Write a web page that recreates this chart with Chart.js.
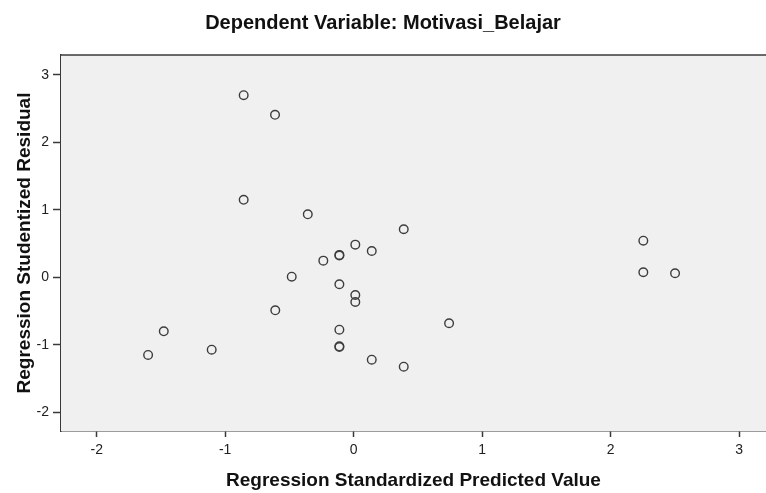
<!DOCTYPE html>
<html>
<head>
<meta charset="utf-8">
<script src="https://cdn.jsdelivr.net/npm/chart.js@4/dist/chart.umd.min.js"></script>
<style>
  html, body { margin: 0; padding: 0; background: #ffffff; overflow: hidden; }
  #wrap { width: 766px; height: 493px; }
  canvas { display: block; }
</style>
</head>
<body>
<div id="wrap"><canvas id="chart" width="766" height="493"></canvas></div>
<script>
const predicted = [
  -0.856, -0.612, -0.856, -0.357, 0.390, 0.013, 0.141, -0.111, -0.111,
  -0.236, -0.482, -0.111, 0.013, 0.013, -0.610, 0.743, -1.478, -0.111,
  -0.111, -0.111, -1.105, -1.600, 0.141, 0.390, 2.255, 2.255, 2.502
];
const residual = [
  2.70, 2.41, 1.15, 0.935, 0.713, 0.485, 0.391, 0.333, 0.323,
  0.248, 0.010, -0.102, -0.261, -0.365, -0.488, -0.680, -0.799, -0.775,
  -1.022, -1.032, -1.072, -1.150, -1.220, -1.324, 0.544, 0.076, 0.061
];
const xTicks = [-2, -1, 0, 1, 2, 3];
const yTicks = [-2, -1, 0, 1, 2, 3];

const titleText = "Dependent Variable: Motivasi_Belajar";
const xTitle = "Regression Standardized Predicted Value";
const yTitle = "Regression Studentized Residual";

const FONT = "'Liberation Sans', Arial, sans-serif";

const points = predicted.map((x, i) => ({ x: x, y: residual[i] }));

// grey plot background and top frame line
const plotBox = {
  id: "plotBox",
  beforeDatasetsDraw(chart) {
    const { ctx, chartArea: a } = chart;
    ctx.save();
    ctx.fillStyle = "#f0f0f0";
    ctx.fillRect(a.left, a.top, a.right - a.left, a.bottom - a.top);
    ctx.strokeStyle = "#3a3a3a";
    ctx.lineWidth = 1.5;
    ctx.beginPath();
    ctx.moveTo(a.left, a.top);
    ctx.lineTo(a.right, a.top);
    ctx.stroke();
    ctx.restore();
  }
};

new Chart(document.getElementById("chart"), {
  type: "scatter",
  data: {
    datasets: [
      {
        data: points,
        pointStyle: "circle",
        pointRadius: 4.3,
        pointHoverRadius: 4.3,
        borderColor: "#3c3c3c",
        backgroundColor: "rgba(0,0,0,0)",
        borderWidth: 1.4,
      },
    ],
  },
  plugins: [plotBox],
  options: {
    responsive: false,
    animation: false,
    layout: { padding: 0, autoPadding: false },
    plugins: {
      legend: { display: false },
      tooltip: { enabled: false },
      title: {
        display: true,
        text: titleText,
        color: "#111111",
        font: { family: FONT, size: 20, weight: "bold" },
        padding: { top: 11, bottom: 20 },
      },
    },
    scales: {
      x: {
        type: "linear",
        min: -2.278,
        max: 3.21,
        afterBuildTicks: (scale) => {
          scale.ticks = xTicks.map((v) => ({ value: v }));
        },
        afterFit: (scale) => {
          scale.height = 62;
          scale.paddingLeft = 0;
          scale.paddingRight = 0;
        },
        ticks: {
          color: "#222222",
          font: { family: FONT, size: 14 },
          padding: 5,
          maxRotation: 0,
          callback: (v) => String(v),
        },
        grid: {
          drawOnChartArea: false,
          drawTicks: true,
          tickLength: 6,
          tickWidth: 1.5,
          tickColor: "#3a3a3a",
        },
        border: { display: true, color: "#3a3a3a", width: 1.5 },
        title: {
          display: true,
          text: xTitle,
          color: "#111111",
          font: { family: FONT, size: 19, weight: "bold" },
          padding: { top: 0, bottom: 1 },
        },
      },
      y: {
        type: "linear",
        min: -2.277,
        max: 3.296,
        afterBuildTicks: (scale) => {
          scale.ticks = yTicks.map((v) => ({ value: v }));
        },
        afterFit: (scale) => {
          scale.width = 61;
          scale.paddingTop = 0;
          scale.paddingBottom = 0;
        },
        ticks: {
          color: "#222222",
          font: { family: FONT, size: 14 },
          padding: 4,
          callback: (v) => String(v),
        },
        grid: {
          drawOnChartArea: false,
          drawTicks: true,
          tickLength: 8,
          tickWidth: 1.5,
          tickColor: "#3a3a3a",
        },
        border: { display: true, color: "#3a3a3a", width: 1.5 },
        title: {
          display: true,
          text: yTitle,
          color: "#111111",
          font: { family: FONT, size: 19, weight: "bold" },
          padding: { top: 13, bottom: 0 },
        },
      },
    },
  },
});
</script>
</body>
</html>
